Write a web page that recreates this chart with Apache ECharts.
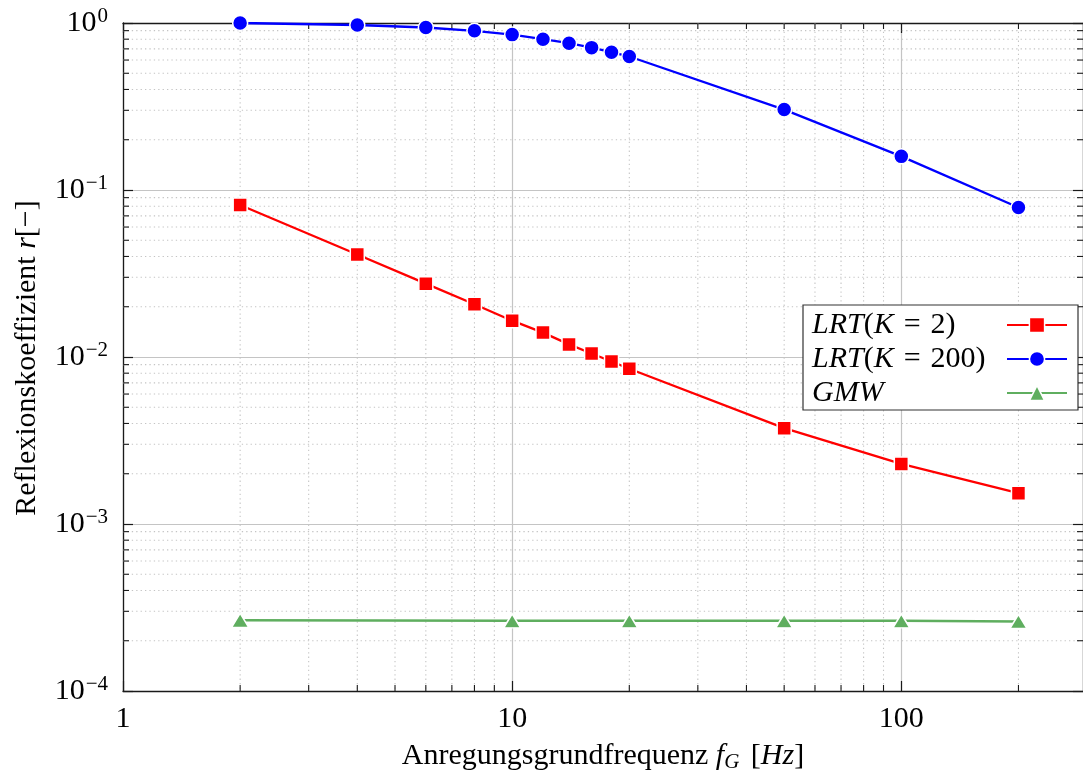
<!DOCTYPE html>
<html>
<head>
<meta charset="utf-8">
<script src="https://cdn.jsdelivr.net/npm/echarts@6/dist/echarts.min.js"></script>
<style>
  html, body { margin: 0; padding: 0; background: #fff; }
  #chart { width: 1083px; height: 778px; }
</style>
</head>
<body>
<div id="chart"></div>
<script>
// Excitation fundamental frequencies [Hz]
const freqLRT = [2, 4, 6, 8, 10, 12, 14, 16, 18, 20, 50, 100, 200];
const freqGMW = [2, 10, 20, 50, 100, 200];

// Reflection coefficients r [-]
const rLRT2   = [0.0813, 0.0411, 0.0275, 0.0207, 0.0165, 0.0140, 0.0119, 0.0105, 0.0094, 0.0085, 0.00375, 0.00229, 0.00153];
const rLRT200 = [1.0, 0.973, 0.94, 0.898, 0.852, 0.80, 0.757, 0.712, 0.669, 0.63, 0.303, 0.159, 0.0786];
const rGMW    = [0.000265, 0.000263, 0.000263, 0.000263, 0.000263, 0.000261];

// Minor (dotted) grid positions of both log axes
const xMinorTicks = [2, 3, 4, 5, 6, 7, 8, 9, 20, 30, 40, 50, 60, 70, 80, 90, 200];
const yMinorTicks = [];
[1e-4, 1e-3, 1e-2, 1e-1].forEach(function (d) {
  for (let k = 2; k <= 9; k++) yMinorTicks.push(+(k * d).toPrecision(3));
});

const SERIF = '"Liberation Serif", "DejaVu Serif", serif';
const FS = 30;
const FS_SMALL = 21;
const GRID_COLOR = '#c4c4c4';
const AXIS_COLOR = '#1a1a1a';

function powLabel(v) {
  const e = Math.round(Math.log10(v));
  if (Math.abs(Math.log10(v) - e) > 1e-6) return '';
  const exp = e < 0 ? '\u2212' + (-e) : String(e);
  return '{b|10}{s|' + exp + '}';
}
function plainLabel(v) {
  const e = Math.round(Math.log10(v));
  if (Math.abs(Math.log10(v) - e) > 1e-6) return '';
  return String(Math.round(v));
}

const legendRich = {
  i: { fontFamily: SERIF, fontSize: FS, fontStyle: 'italic', color: '#000', align: 'left', lineHeight: 30 },
  r: { fontFamily: SERIF, fontSize: FS, color: '#000', align: 'left', lineHeight: 30 }
};
const legendNames = {
  'LRT(K = 2)':   '{i|LRT}{r|(}{i|K}{r|\u2004=\u20042)}',
  'LRT(K = 200)': '{i|LRT}{r|(}{i|K}{r|\u2004=\u2004200)}',
  'GMW':          '{i|GMW}'
};

const chart = echarts.init(document.getElementById('chart'), null, { renderer: 'canvas' });

const axisCommon = {
  type: 'log',
  logBase: 10,
  axisLine: { show: true, onZero: false, lineStyle: { color: AXIS_COLOR, width: 1.3 } },
  axisTick: { show: true, inside: true, length: 10, lineStyle: { color: AXIS_COLOR, width: 1.2 } },
  minorTick: { show: false },
  minorSplitLine: { show: false }
};

chart.setOption({
  animation: false,
  backgroundColor: '#ffffff',
  grid: { left: 123, top: 23, width: 962, height: 671, containLabel: false },
  xAxis: [
    Object.assign({}, axisCommon, {
      min: 1, max: 293, position: 'bottom',
      axisLabel: {
        formatter: plainLabel, margin: 13,
        fontFamily: SERIF, fontSize: FS, color: '#000', showMaxLabel: false
      },
      splitLine: { show: true, lineStyle: { color: GRID_COLOR, width: 1.2 } },
      name: '{r|Anregungsgrundfrequenz }{i|f}{sub|G}{r| [}{i|Hz}{r|]}',
      nameLocation: 'middle',
      nameGap: 49,
      nameTextStyle: {
        rich: {
          r: { fontFamily: SERIF, fontSize: FS, color: '#000' },
          i: { fontFamily: SERIF, fontSize: FS, fontStyle: 'italic', color: '#000' },
          sub: { fontFamily: SERIF, fontSize: FS_SMALL, fontStyle: 'italic', color: '#000', padding: [12, 4, 0, 0] }
        }
      }
    }),
    Object.assign({}, axisCommon, {
      min: 1, max: 293, position: 'top',
      axisLabel: { show: false },
      splitLine: { show: false }
    })
  ],
  yAxis: [
    Object.assign({}, axisCommon, {
      min: 1e-4, max: 1, position: 'left',
      axisLabel: {
        formatter: powLabel, margin: 15,
        rich: {
          b: { fontFamily: SERIF, fontSize: FS, color: '#000' },
          s: { fontFamily: SERIF, fontSize: FS_SMALL, color: '#000', padding: [0, 0, 13, 1] }
        }
      },
      splitLine: { show: true, lineStyle: { color: GRID_COLOR, width: 1.2 } }
    }),
    Object.assign({}, axisCommon, {
      min: 1e-4, max: 1, position: 'right',
      axisLabel: { show: false },
      splitLine: { show: false }
    })
  ],
  legend: {
    orient: 'vertical',
    left: 803,
    top: 305,
    align: 'right',
    itemWidth: 60,
    itemHeight: 19,
    itemGap: 4,
    padding: [5, 10, 2, 9],
    backgroundColor: '#ffffff',
    borderColor: '#333333',
    borderWidth: 1.2,
    borderRadius: 0,
    itemStyle: { borderColor: '#ffffff', borderWidth: 1.5 },
    data: ['LRT(K = 2)', 'LRT(K = 200)', 'GMW'],
    formatter: function (name) { return legendNames[name]; },
    textStyle: { width: 190, rich: legendRich }
  },
  graphic: [{
    type: 'text',
    x: 27,
    y: 358,
    rotation: Math.PI / 2,
    style: {
      text: '{r|Reflexionskoeffizient }{i|r}{r|[\u2212]}',
      align: 'center',
      verticalAlign: 'middle',
      rich: {
        r: { fontFamily: SERIF, fontSize: FS, fill: '#000' },
        i: { fontFamily: SERIF, fontSize: FS, fontStyle: 'italic', fill: '#000' }
      }
    }
  }],
  series: [
    {
      // dotted minor grid lines and inward minor ticks on all four sides
      type: 'custom',
      silent: true,
      z: 1,
      clip: false,
      legendHoverLink: false,
      data: xMinorTicks.map(function (v) { return ['x', v]; })
        .concat(yMinorTicks.map(function (v) { return ['y', v]; })),
      dimensions: ['kind', 'val'],
      encode: { x: -1, y: -1 },
      renderItem: function (params, api) {
        const cs = params.coordSys;
        const kind = api.value(0);
        const v = api.value(1);
        const tickStyle = { stroke: AXIS_COLOR, lineWidth: 1.1 };
        const dotStyle = { stroke: GRID_COLOR, lineWidth: 1.1, lineDash: [1.3, 3.1] };
        const tl = 6;
        if (kind === 'x') {
          const px = api.coord([v, 1])[0];
          if (px > cs.x + cs.width) return null;
          return {
            type: 'group',
            children: [
              { type: 'line', shape: { x1: px, y1: cs.y, x2: px, y2: cs.y + cs.height }, style: dotStyle },
              { type: 'line', shape: { x1: px, y1: cs.y + cs.height - tl, x2: px, y2: cs.y + cs.height }, style: tickStyle },
              { type: 'line', shape: { x1: px, y1: cs.y, x2: px, y2: cs.y + tl }, style: tickStyle }
            ]
          };
        }
        const py = api.coord([1, v])[1];
        return {
          type: 'group',
          children: [
            { type: 'line', shape: { x1: cs.x, y1: py, x2: cs.x + cs.width, y2: py }, style: dotStyle },
            { type: 'line', shape: { x1: cs.x, y1: py, x2: cs.x + tl, y2: py }, style: tickStyle },
            { type: 'line', shape: { x1: cs.x + cs.width - tl, y1: py, x2: cs.x + cs.width, y2: py }, style: tickStyle }
          ]
        };
      }
    },
    {
      name: 'LRT(K = 2)',
      type: 'line',
      z: 3,
      data: freqLRT.map(function (f, i) { return [f, rLRT2[i]]; }),
      symbol: 'rect',
      symbolSize: 14,
      showAllSymbol: true,
      color: '#ff0000',
      lineStyle: { color: '#ff0000', width: 2.3 },
      itemStyle: { color: '#ff0000', borderColor: '#ffffff', borderWidth: 1.5 }
    },
    {
      name: 'LRT(K = 200)',
      type: 'line',
      z: 3,
      data: freqLRT.map(function (f, i) { return [f, rLRT200[i]]; }),
      symbol: 'circle',
      symbolSize: 15,
      showAllSymbol: true,
      color: '#0000ff',
      lineStyle: { color: '#0000ff', width: 2.3 },
      itemStyle: { color: '#0000ff', borderColor: '#ffffff', borderWidth: 1.5 }
    },
    {
      name: 'GMW',
      type: 'line',
      z: 3,
      data: freqGMW.map(function (f, i) { return [f, rGMW[i]]; }),
      symbol: 'triangle',
      symbolSize: [17, 14],
      showAllSymbol: true,
      color: '#5fae5f',
      lineStyle: { color: '#5fae5f', width: 2.5 },
      itemStyle: { color: '#5fae5f', borderColor: '#ffffff', borderWidth: 1.5 }
    }
  ]
});
</script>
</body>
</html>
